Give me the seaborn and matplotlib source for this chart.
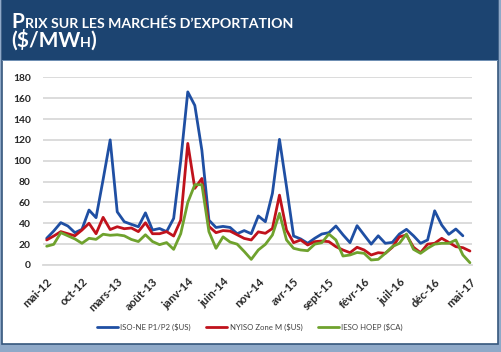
import numpy as np
import pandas as pd
import matplotlib
matplotlib.use("Agg")
import matplotlib.pyplot as plt
import seaborn as sns
from matplotlib.patches import Rectangle

# Données mensuelles, mai-12 .. mai-17
iso_ne = [25.6, 32.6, 40.6, 37.4, 31, 34.2, 52.7, 45.4, 82, 120,
          51, 41.5, 39, 36.7, 50, 33.5, 35, 32, 44.7, 100,
          166, 153, 110, 43, 36, 37, 36, 30, 33, 30,
          47, 41.5, 68.7, 120.5, 75, 27.8, 25, 20.8, 25.6, 29.7,
          31, 37.4, 29, 21.4, 37.7, 28.8, 20, 28, 20.8, 21.7,
          29.7, 34.2, 28, 20.8, 24, 52, 38.3, 29.4, 34.5, 28, np.nan]
nyiso = [24, 27.8, 32, 30, 28, 33.5, 40, 30, 45.7, 34,
         36.7, 34.8, 35.5, 32, 40.5, 30, 30, 32, 27.8, 43,
         116.6, 73.5, 83, 37, 31, 33, 32.5, 29, 25.5, 24,
         31.8, 30.4, 35, 67, 33.5, 21.4, 24, 19.2, 22.4, 23,
         22.4, 17.6, 14.4, 11.8, 17, 14.4, 9.6, 11.8, 11.2, 17,
         27, 28.8, 17, 11.8, 20, 20.8, 25.6, 21.7, 17.6, 16.6, 13.4]
ieso = [18, 19.8, 31, 28, 25, 20.8, 25.6, 24.6, 29.5, 28.5,
        29, 28, 24.5, 22.5, 29, 22.5, 19.5, 21.5, 15, 30,
        60, 77, 77, 32, 16, 27, 22, 20, 13, 5.4,
        14.4, 19.8, 28.8, 49.5, 24, 16, 14.4, 13.7, 20, 21.4,
        29.7, 24, 8.6, 9.6, 12, 11.2, 4.8, 5.4, 11.2, 17.6,
        20.8, 29.7, 15, 11.2, 16, 20, 20.8, 20.8, 24, 9.6, 2.2]
series_names = ["ISO-NE P1/P2 ($US)", "NYISO Zone M ($US)", "IESO HOEP ($CA)"]
tick_labels = ["mai-12", "oct-12", "mars-13", "août-13", "janv-14", "juin-14", "nov-14",
               "avr-15", "sept-15", "févr-16", "juil-16", "déc-16", "mai-17"]
y_ticks = [0, 20, 40, 60, 80, 100, 120, 140, 160, 180]

months = np.arange(len(nyiso))
df = pd.concat([
    pd.DataFrame({"mois": months, "prix": vals, "serie": name})
    for name, vals in zip(series_names, [iso_ne, nyiso, ieso])
], ignore_index=True)

sns.set_style("white")
plt.rcParams["font.family"] = ["Lato", "DejaVu Sans"]

W, H = 502, 352
fig = plt.figure(figsize=(W / 100, H / 100), dpi=100, facecolor="#8fa9c8")

def px(x0, y0, w, h):
    return [x0 / W, 1 - (y0 + h) / H, w / W, h / H]

# cadre et bandeau de titre
fig.patches.append(Rectangle((2 / W, 8 / H), 496 / W, 1 - 8 / H, transform=fig.transFigure,
                             facecolor="white", edgecolor="#36577d", lw=1.2, zorder=0))
fig.patches.append(Rectangle((2 / W, 1 - 60 / H), 496 / W, 60 / H, transform=fig.transFigure,
                             facecolor="#1c4471", edgecolor="none", zorder=1))
fig.patches.append(Rectangle((2 / W, 1 - 61 / H), 496 / W, 1.5 / H, transform=fig.transFigure,
                             facecolor="#6f8fb3", edgecolor="none", zorder=1))

ax = fig.add_axes(px(43.3, 77.3, 428.4, 187.7))
ax.set_zorder(3)
ax.patch.set_alpha(0)
palette = {series_names[0]: "#1f4fa3", series_names[1]: "#c0121c", series_names[2]: "#6fa22e"}
sns.lineplot(data=df, x="mois", y="prix", hue="serie", palette=palette, lw=2.0, ax=ax)

ax.set_xlim(-0.48, 60.25)
ax.set_ylim(0, 180)
ax.set_yticks(y_ticks)
ax.set_yticklabels([str(v) for v in y_ticks], fontsize=7.4, fontweight="bold", color="#262626")
ax.set_xticks(months[::5])
ax.set_xticklabels(tick_labels, rotation=45, ha="right", rotation_mode="anchor",
                   fontsize=8.2, fontweight="bold", color="#262626")
ax.tick_params(axis="y", length=0, pad=9)
ax.tick_params(axis="x", length=0, pad=8)
ax.grid(axis="y", color="#d9d9d9", lw=1.3)
ax.set_axisbelow(True)
for s in ["top", "right", "left"]:
    ax.spines[s].set_visible(False)
ax.spines["bottom"].set_color("#d9d9d9")
ax.spines["bottom"].set_linewidth(1.3)
ax.set_xlabel("")
ax.set_ylabel("")

ax.legend(loc="center", bbox_to_anchor=(250 / W, 1 - 327 / H), bbox_transform=fig.transFigure,
          ncol=3, frameon=False, fontsize=5.6, handlelength=2.7, columnspacing=2.0,
          handletextpad=0.3, labelcolor="#404040")

# titre en petites capitales
renderer = fig.canvas.get_renderer()
def small_caps(parts, x, y):
    for text, size, gap in parts:
        t = fig.text(x / W, 1 - y / H, text, fontsize=size, fontweight="bold",
                     color="white", va="baseline", ha="left", zorder=4)
        bb = t.get_window_extent(renderer=renderer)
        x = bb.x1 + gap

small_caps([("P", 15, 1.3), ("RIX SUR LES MARCHÉS D\u2019EXPORTATION", 10.2, 0)], 11.0, 28.3)
small_caps([("($/MW", 15, -0.5), ("H", 10.2, 0), (")", 15, 0)], 11.0, 46.7)

fig.savefig("out.png", dpi=100, facecolor=fig.get_facecolor())
